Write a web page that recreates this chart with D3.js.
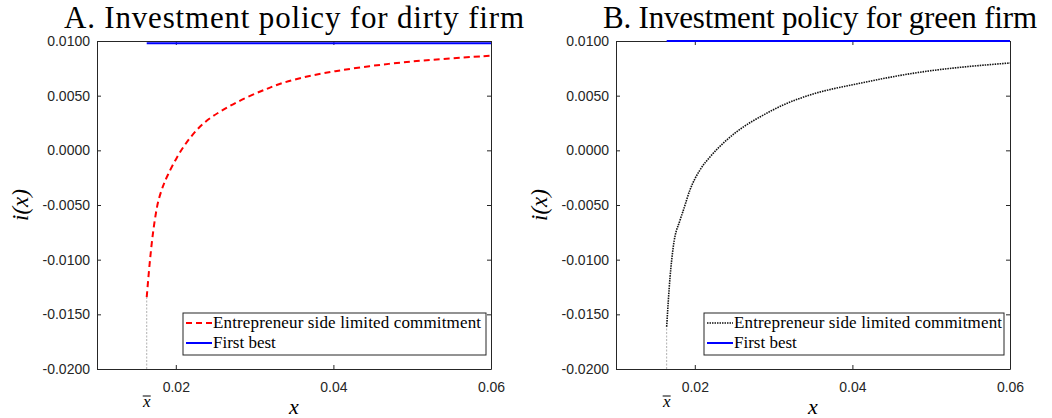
<!DOCTYPE html>
<html>
<head>
<meta charset="utf-8">
<script src="https://cdn.jsdelivr.net/npm/d3@7"></script>
<style>
  body { margin: 0; background: #fff; }
  svg { display: block; }
</style>
</head>
<body>
<div id="container"></div>
<script>
// data
const titles = ["A. Investment policy for dirty firm", "B. Investment policy for green firm"];
const xTicks = [0.02, 0.04, 0.06];
const yTicks = [0.01, 0.005, 0, -0.005, -0.01, -0.015, -0.02];

const dirtyX = [0.01631, 0.0166, 0.01685, 0.01714, 0.01749, 0.01778, 0.01841, 0.01885, 0.02011, 0.02159, 0.02349, 0.02603, 0.029, 0.03195, 0.03449, 0.03995, 0.04718, 0.0535, 0.06];
const dirtyY = [-0.01342, -0.01095, -0.00912, -0.00729, -0.00564, -0.00454, -0.00317, -0.00244, -0.00061, 0.00100, 0.00258, 0.00375, 0.00488, 0.00575, 0.00643, 0.00726, 0.00796, 0.00835, 0.00866];

const greenX = [0.01643, 0.01685, 0.01727, 0.01812, 0.01854, 0.01938, 0.02065, 0.02192, 0.02404, 0.02614, 0.02826, 0.03122, 0.0346, 0.04094, 0.04729, 0.06];
const greenY = [-0.01613, -0.01168, -0.00881, -0.0064, -0.0055, -0.00363, -0.0018, -0.00061, 0.00094, 0.00213, 0.00305, 0.00415, 0.00506, 0.00613, 0.0070, 0.00799];

const firstBest = [0.0098, 0.0100];
const xbar = [0.01631, 0.01643];
const legendLabels = ["Entrepreneur side limited commitment", "First best"];

const W = 1052, H = 418;
const axisCol = "#262626";
const serif = "'Liberation Serif', 'Times New Roman', serif";
const fmtTick = f => d => d3.format(f)(d).replace("\u2212", "-");

const svg = d3.select("#container").append("svg")
  .attr("width", W).attr("height", H);
svg.append("rect").attr("width", W).attr("height", H).attr("fill", "#fff");

const panels = [
  {x0: 97, x1: 491, xs: dirtyX, ys: dirtyY, color: "red", dash: "6,4", width: 2,
   curve: d3.curveBasis, title: {cx: 294, len: 460}, legend: {x: 183, w: 303}},
  {x0: 616, x1: 1010, xs: greenX, ys: greenY, color: "#111", dash: "1.5,1", width: 1.6,
   curve: d3.curveMonotoneX, title: {cx: 820, len: 434}, legend: {x: 704, w: 300}}
];
const plotTop = 41, plotBottom = 369;

panels.forEach((p, k) => {
  const x = d3.scaleLinear().domain([0.01, 0.06]).range([p.x0, p.x1]);
  const y = d3.scaleLinear().domain([-0.02, 0.01]).range([plotBottom, plotTop]);
  const g = svg.append("g");

  // axes with ticks inside (box style)
  const bAx = g.append("g").attr("transform", `translate(0,${plotBottom})`)
    .call(d3.axisBottom(x).tickValues(xTicks).tickSizeInner(-4).tickSizeOuter(0).tickPadding(13)
      .tickFormat(fmtTick(".2f")));
  const tAx = g.append("g").attr("transform", `translate(0,${plotTop})`)
    .call(d3.axisTop(x).tickValues(xTicks).tickSizeInner(-4).tickSizeOuter(0).tickFormat(""));
  const lAx = g.append("g").attr("transform", `translate(${p.x0},0)`)
    .call(d3.axisLeft(y).tickValues(yTicks).tickSizeInner(-4).tickSizeOuter(0).tickPadding(7)
      .tickFormat(fmtTick(".4f")));
  const rAx = g.append("g").attr("transform", `translate(${p.x1},0)`)
    .call(d3.axisRight(y).tickValues(yTicks).tickSizeInner(-4).tickSizeOuter(0).tickFormat(""));
  [bAx, tAx, lAx, rAx].forEach(a => {
    a.select(".domain").attr("stroke", axisCol).attr("stroke-width", 1);
    a.selectAll(".tick line").attr("stroke", axisCol);
    a.selectAll("text").attr("fill", axisCol)
      .style("font-family", "'Liberation Sans', Arial, sans-serif").style("font-size", "14px");
  });
  bAx.selectAll("text").attr("dy", "0.71em");

  // x-bar guide
  g.append("line")
    .attr("x1", x(xbar[k])).attr("x2", x(xbar[k]))
    .attr("y1", y(-0.02)).attr("y2", y(p.ys[0]))
    .attr("stroke", "#b0b0b0").attr("stroke-width", 1).attr("stroke-dasharray", "2,1.5");

  // first best
  g.append("line")
    .attr("x1", x(xbar[k])).attr("x2", x(0.06))
    .attr("y1", y(firstBest[k])).attr("y2", y(firstBest[k]))
    .attr("stroke", "#0000ff").attr("stroke-width", 2);

  // policy curve
  const line = d3.line().x(d => x(d[0])).y(d => y(d[1])).curve(p.curve);
  g.append("path")
    .datum(p.xs.map((v, i) => [v, p.ys[i]]))
    .attr("d", line)
    .attr("fill", "none").attr("stroke", p.color)
    .attr("stroke-width", p.width).attr("stroke-dasharray", p.dash);

  // title
  g.append("text")
    .attr("x", p.title.cx).attr("y", 28)
    .attr("text-anchor", "middle")
    .attr("textLength", p.title.len).attr("lengthAdjust", "spacing")
    .style("font-family", serif)
    .style("font-size", "31px").attr("fill", "#000")
    .text(titles[k]);

  // axis labels
  g.append("text")
    .attr("x", (p.x0 + p.x1) / 2).attr("y", 414)
    .attr("text-anchor", "middle")
    .style("font-family", serif).style("font-style", "italic")
    .style("font-size", "22px").text("x");
  g.append("text")
    .attr("x", x(xbar[k])).attr("y", 407)
    .attr("text-anchor", "middle")
    .style("font-family", serif).style("font-style", "italic")
    .style("font-size", "17px").text("x");
  g.append("line")
    .attr("x1", x(xbar[k]) - 4).attr("x2", x(xbar[k]) + 4)
    .attr("y1", 396).attr("y2", 396).attr("stroke", "#000").attr("stroke-width", 1);
  g.append("text")
    .attr("transform", `translate(${p.x0 - 69},${(plotTop + plotBottom) / 2}) rotate(-90)`)
    .attr("text-anchor", "middle")
    .style("font-family", serif).style("font-style", "italic")
    .style("font-size", "23px").text("i(x)");

  // legend
  const lg = g.append("g").attr("transform", `translate(${p.legend.x},313)`);
  lg.append("rect").attr("width", p.legend.w).attr("height", 42)
    .attr("fill", "#fff").attr("stroke", axisCol).attr("stroke-width", 1);
  const rows = [{c: p.color, dash: p.dash, w: p.width}, {c: "#0000ff", dash: null, w: 2}];
  rows.forEach((r, i) => {
    const cy = 10 + i * 20;
    lg.append("line").attr("x1", 3).attr("x2", 29).attr("y1", cy).attr("y2", cy)
      .attr("stroke", r.c).attr("stroke-width", r.w).attr("stroke-dasharray", r.dash);
    const t = lg.append("text").attr("x", 30).attr("y", cy + 5)
      .style("font-family", serif).style("font-size", "17px")
      .text(legendLabels[i]);
    if (i === 0) t.attr("textLength", 268).attr("lengthAdjust", "spacing");
  });
});
</script>
</body>
</html>
